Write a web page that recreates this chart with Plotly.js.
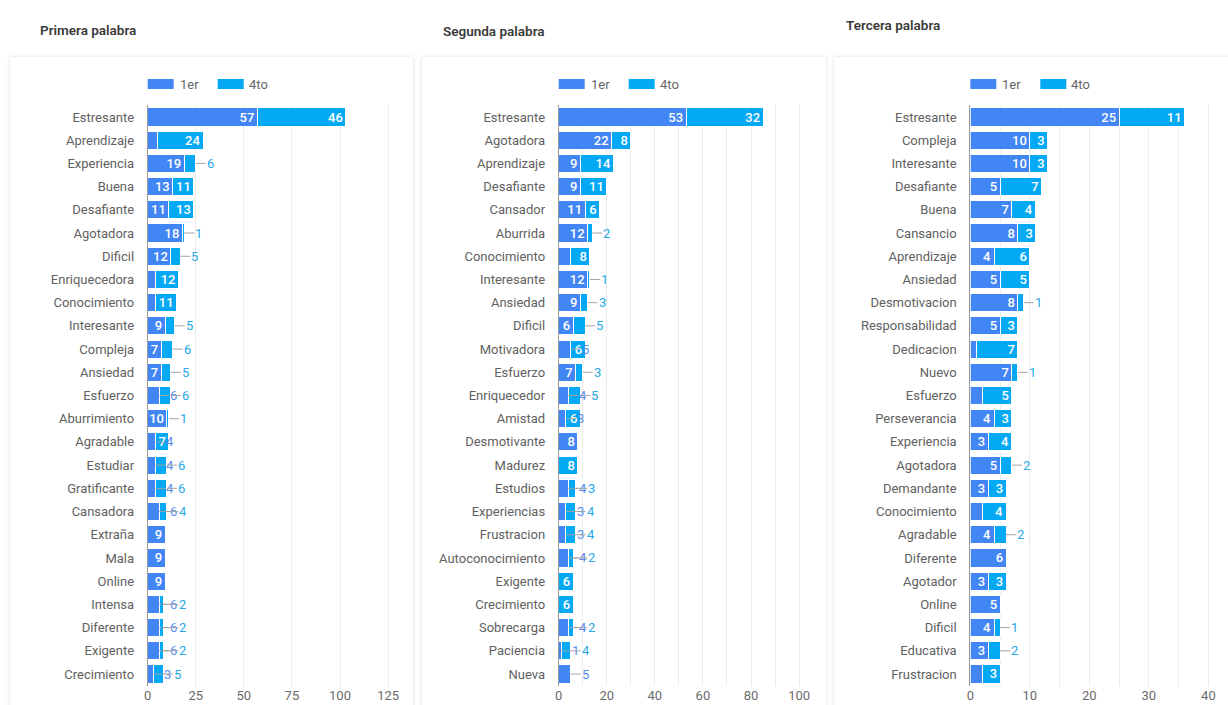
<!DOCTYPE html>
<html>
<head>
<meta charset="utf-8">
<script src="https://cdn.plot.ly/plotly-3.0.1.min.js"></script>
<style>
html,body{margin:0;padding:0;background:#ffffff;width:1228px;height:705px;overflow:hidden;}
.card{position:absolute;background:#fff;box-shadow:0 0 4px rgba(0,0,0,0.13);border-radius:2px;}
#chart{position:absolute;left:0;top:0;width:1228px;height:705px;}
</style>
</head>
<body>
<div class="card" style="left:10px;top:57px;width:403px;height:680px"></div>
<div class="card" style="left:422px;top:57px;width:404px;height:680px"></div>
<div class="card" style="left:834px;top:57px;width:420px;height:680px"></div>
<div id="chart"></div>
<script>
// ---------- DATA ----------
const titles = ['Primera palabra', 'Segunda palabra', 'Tercera palabra'];
const seriesNames = ['1er', '4to'];

const cats1 = ['Estresante','Aprendizaje','Experiencia','Buena','Desafiante','Agotadora','Dificil','Enriquecedora','Conocimiento','Interesante','Compleja','Ansiedad','Esfuerzo','Aburrimiento','Agradable','Estudiar','Gratificante','Cansadora','Extraña','Mala','Online','Intensa','Diferente','Exigente','Crecimiento'];
const first1 = [57,5,19,13,11,18,12,4,4,9,7,7,6,10,4,4,4,6,9,9,9,6,6,6,3];
const fourth1 = [46,24,6,11,13,1,5,12,11,5,6,5,6,1,7,6,6,4,0,0,0,2,2,2,5];

const cats2 = ['Estresante','Agotadora','Aprendizaje','Desafiante','Cansador','Aburrida','Conocimiento','Interesante','Ansiedad','Dificil','Motivadora','Esfuerzo','Enriquecedor','Amistad','Desmotivante','Madurez','Estudios','Experiencias','Frustracion','Autoconocimiento','Exigente','Crecimiento','Sobrecarga','Paciencia','Nueva'];
const first2 = [53,22,9,9,11,12,5,12,9,6,5,7,4,3,8,0,4,3,3,4,0,0,4,1,5];
const fourth2 = [32,8,14,11,6,2,8,1,3,5,6,3,5,6,0,8,3,4,4,2,6,6,2,4,0];

const cats3 = ['Estresante','Compleja','Interesante','Desafiante','Buena','Cansancio','Aprendizaje','Ansiedad','Desmotivacion','Responsabilidad','Dedicacion','Nuevo','Esfuerzo','Perseverancia','Experiencia','Agotadora','Demandante','Conocimiento','Agradable','Diferente','Agotador','Online','Dificil','Educativa','Frustracion'];
const first3 = [25,10,10,5,7,8,4,5,8,5,1,7,2,4,3,5,3,2,4,6,3,5,4,3,2];
const fourth3 = [11,3,3,7,4,3,6,5,1,3,7,1,5,3,4,2,3,4,2,0,3,0,1,2,3];

// ---------- STYLE / LAYOUT ----------
const C1 = '#4285F4', C2 = '#03A9F4';
const C1L = '#5a8ced', C2L = '#27a8e6';
const W = 1228, H = 705;
const px = x => x / W, py = y => 1 - y / H;
const PW = 250, TOP = 105.4, BOT = 685.6;
const FONT = 'Roboto, "Open Sans", sans-serif';

const panels = [
  {cats: cats1, a: first1, b: fourth1, left: 147.7, max: 130, dtick: 25, minor: null, titleX: 38, titleY: 30},
  {cats: cats2, a: first2, b: fourth2, left: 558.7, max: 104, dtick: 20, minor: 10, titleX: 441, titleY: 31},
  {cats: cats3, a: first3, b: fourth3, left: 970.3, max: 42, dtick: 10, minor: 5, titleX: 844, titleY: 25}
];

const traces = [], annotations = [], shapes = [];
const layout = {
  width: W, height: H,
  margin: {l: 0, r: 0, t: 0, b: 0},
  paper_bgcolor: 'rgba(0,0,0,0)', plot_bgcolor: 'rgba(0,0,0,0)',
  barmode: 'stack', bargap: 0.22,
  showlegend: false,
  font: {family: FONT, color: '#666'},
  annotations: annotations, shapes: shapes
};

panels.forEach((p, i) => {
  const s = i === 0 ? '' : String(i + 1);
  const scale = PW / p.max;
  const inside = v => v > 0 && v * scale >= 13;
  const mk = (vals, name, color) => ({
    type: 'bar', orientation: 'h', name: name,
    y: p.cats, x: vals, xaxis: 'x' + s, yaxis: 'y' + s,
    marker: {color: color, line: {color: '#ffffff', width: 1}},
    text: vals.map(v => inside(v) ? String(v) : ''),
    textposition: 'inside', insidetextanchor: 'end', constraintext: 'none', textangle: 0,
    textfont: {color: '#ffffff', size: 13, family: FONT, weight: 500},
    hoverinfo: 'none'
  });
  traces.push(mk(p.a, seriesNames[0], C1));
  traces.push(mk(p.b, seriesNames[1], C2));

  // outside labels with leader lines
  p.cats.forEach((c, j) => {
    const a = p.a[j], b = p.b[j];
    const base = {xref: 'x' + s, yref: 'y' + s, y: c, showarrow: true, ay: 0,
      arrowhead: 0, arrowwidth: 1, arrowcolor: '#a3a3a3', xanchor: 'left', yanchor: 'middle',
      borderpad: 0, standoff: 0};
    let firstLabelEnd = -Infinity;
    if (a > 0 && !inside(a) && !(b * scale > 17)) {
      annotations.push(Object.assign({}, base, {x: a, ax: 10, text: String(a), font: {size: 13, color: C1L, family: FONT}}));
      firstLabelEnd = a * scale + 10 + 8 * String(a).length;
    }
    if (b > 0 && !inside(b)) {
      const endPx = (a + b) * scale;
      const ax = Math.max(10, firstLabelEnd + 1 - endPx);
      annotations.push(Object.assign({}, base, {x: a + b, ax: ax, text: String(b), font: {size: 13, color: C2L, family: FONT}}));
    }
  });

  layout['xaxis' + s] = {
    domain: [px(p.left), px(p.left + PW)], anchor: 'y' + s,
    range: [0, p.max], dtick: p.dtick, tick0: 0,
    showgrid: true, gridcolor: '#ebebeb', gridwidth: 1,
    zeroline: false, showline: false, ticks: '',
    tickfont: {size: 13, color: '#6b6b6b', family: FONT},
    fixedrange: true,
    minor: p.minor ? {dtick: p.minor, tick0: 0, showgrid: true, gridcolor: '#ebebeb', gridwidth: 1} : undefined
  };
  layout['yaxis' + s] = {
    domain: [py(BOT), py(TOP)], anchor: 'x' + s,
    type: 'category', autorange: 'reversed',
    showgrid: false, zeroline: false,
    showline: true, linecolor: '#9a9a9a', linewidth: 1,
    ticks: '', ticklabelstandoff: 10,
    tickfont: {size: 13, color: '#616161', family: FONT},
    fixedrange: true
  };

  // panel title
  annotations.push({xref: 'paper', yref: 'paper', x: px(p.titleX), y: py(p.titleY),
    xanchor: 'left', yanchor: 'middle', showarrow: false, text: titles[i],
    font: {size: 13.5, color: '#3a3a3a', family: FONT, weight: 600}});

  // legend (drawn)
  const L = p.left;
  shapes.push({type: 'rect', xref: 'paper', yref: 'paper', x0: px(L), x1: px(L + 26), y0: py(89), y1: py(79),
    fillcolor: C1, line: {width: 0}});
  shapes.push({type: 'rect', xref: 'paper', yref: 'paper', x0: px(L + 70), x1: px(L + 96), y0: py(89), y1: py(79),
    fillcolor: C2, line: {width: 0}});
  annotations.push({xref: 'paper', yref: 'paper', x: px(L + 30), y: py(84.5), xanchor: 'left', yanchor: 'middle',
    showarrow: false, text: seriesNames[0], font: {size: 13, color: '#666666', family: FONT}});
  annotations.push({xref: 'paper', yref: 'paper', x: px(L + 99), y: py(84.5), xanchor: 'left', yanchor: 'middle',
    showarrow: false, text: seriesNames[1], font: {size: 13, color: '#666666', family: FONT}});
});

Plotly.newPlot('chart', traces, layout, {displayModeBar: false, staticPlot: true});
</script>
</body>
</html>
